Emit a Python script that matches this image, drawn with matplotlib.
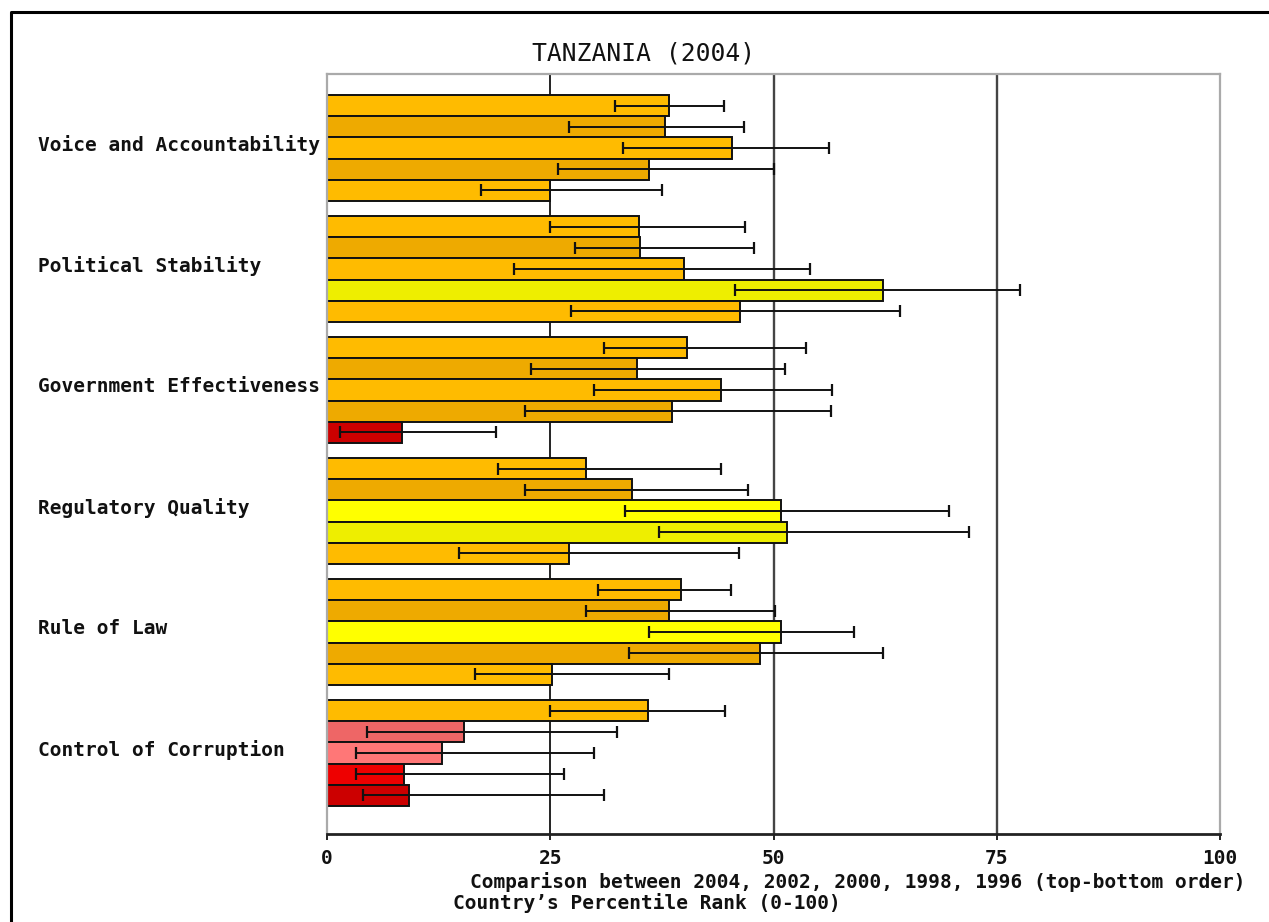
import matplotlib
matplotlib.use('Agg')
import matplotlib.pyplot as plt
import matplotlib.transforms as mtransforms
from matplotlib.lines import Line2D

# ---------------- data ----------------
indicators = ["Voice and Accountability", "Political Stability",
              "Government Effectiveness", "Regulatory Quality",
              "Rule of Law", "Control of Corruption"]
years = [2004, 2002, 2000, 1998, 1996]

rank_voice = [38.3, 37.9, 45.4, 36.1, 25.0]
rank_polstab = [34.9, 35.1, 40.0, 62.3, 46.3]
rank_goveff = [40.3, 34.7, 44.1, 38.6, 8.4]
rank_regqual = [29.0, 34.2, 50.8, 51.5, 27.1]
rank_rol = [39.6, 38.3, 50.8, 48.5, 25.2]
rank_corrupt = [35.9, 15.3, 12.9, 8.6, 9.2]

low_voice = [32.3, 27.1, 33.2, 25.9, 17.2]
low_polstab = [25.0, 27.8, 20.9, 45.7, 27.3]
low_goveff = [31.0, 22.8, 29.9, 22.2, 1.5]
low_regqual = [19.1, 22.2, 33.4, 37.2, 14.8]
low_rol = [30.3, 29.0, 36.1, 33.8, 16.6]
low_corrupt = [25.0, 4.5, 3.2, 3.2, 4.0]

high_voice = [44.5, 46.7, 56.2, 50.0, 37.5]
high_polstab = [46.8, 47.8, 54.1, 77.6, 64.2]
high_goveff = [53.6, 51.3, 56.6, 56.4, 18.9]
high_regqual = [44.1, 47.2, 69.6, 71.9, 46.1]
high_rol = [45.2, 50.2, 59.0, 62.3, 38.3]
high_corrupt = [44.6, 32.5, 29.9, 26.5, 31.0]

col_voice = ["#FFBB00", "#EEAA00", "#FFBB00", "#EEAA00", "#FFBB00"]
col_polstab = ["#FFBB00", "#EEAA00", "#FFBB00", "#EEEE00", "#FFBB00"]
col_goveff = ["#FFBB00", "#EEAA00", "#FFBB00", "#EEAA00", "#CC0000"]
col_regqual = ["#FFBB00", "#EEAA00", "#FFFF00", "#EEEE00", "#FFBB00"]
col_rol = ["#FFBB00", "#EEAA00", "#FFFF00", "#EEAA00", "#FFBB00"]
col_corrupt = ["#FFBB00", "#EE6666", "#FF7777", "#EE0000", "#CC0000"]

ranks = [rank_voice, rank_polstab, rank_goveff, rank_regqual, rank_rol, rank_corrupt]
lows = [low_voice, low_polstab, low_goveff, low_regqual, low_rol, low_corrupt]
highs = [high_voice, high_polstab, high_goveff, high_regqual, high_rol, high_corrupt]
cols = [col_voice, col_polstab, col_goveff, col_regqual, col_rol, col_corrupt]

x_ticks = [0, 25, 50, 75, 100]

# ---------------- figure ----------------
W, H = 1269, 922
fig = plt.figure(figsize=(W / 100, H / 100), dpi=100)
fig.patch.set_facecolor('white')

ax_l, ax_r, ax_t, ax_b = 327, 1220, 74, 834
ax = fig.add_axes([ax_l / W, 1 - ax_b / H, (ax_r - ax_l) / W, (ax_b - ax_t) / H])

MONO = 'DejaVu Sans Mono'
FS = 14.0
bar_px = 21.2
group_step = 121 / bar_px
first = 21 / bar_px
ymax = (ax_b - ax_t) / bar_px

# grid lines
ax.axvline(25, color='#111111', lw=1.3, zorder=0)
ax.axvline(50, color='#444444', lw=1.7, zorder=0)
ax.axvline(75, color='#444444', lw=1.7, zorder=0)

blend = mtransforms.blended_transform_factory(fig.transFigure, ax.transData)

for gi, name in enumerate(indicators):
    ys = [first + gi * group_step + j + 0.5 for j in range(len(years))]
    ax.barh(ys, ranks[gi], height=1.0, color=cols[gi], edgecolor='#111111',
            linewidth=1.4, zorder=2)
    xerr = [[r - lo for r, lo in zip(ranks[gi], lows[gi])],
            [hi - r for r, hi in zip(ranks[gi], highs[gi])]]
    ax.errorbar(ranks[gi], ys, xerr=xerr, fmt='none', ecolor='#111111',
                elinewidth=1.4, capsize=4.3, capthick=1.6, zorder=3)
    fig.text(38 / W, ys[2] - 0.15, name, transform=blend,
             ha='left', va='center', fontsize=FS, fontweight='bold',
             family=MONO, color='#111111')

ax.set_xlim(0, 100)
ax.set_ylim(ymax, 0)
ax.set_yticks([])
ax.set_xticks(x_ticks)
ax.set_xticklabels([str(t) for t in x_ticks], family=MONO, fontweight='bold',
                   fontsize=FS)
ax.tick_params(axis='x', direction='out', length=4, width=1.3, pad=7,
               colors='#111111')

for s in ['top', 'right', 'left']:
    ax.spines[s].set_color('#aaaaaa')
    ax.spines[s].set_linewidth(1.6)
ax.spines['bottom'].set_color('#222222')
ax.spines['bottom'].set_linewidth(2.0)

# title
fig.text(644 / W, 1 - 53 / H, "TANZANIA (2004)", ha='center', va='center',
         family=MONO, fontsize=17.7, color='#111111')

# axis captions
fig.text(1245 / W, 1 - 882 / H,
         "Comparison between 2004, 2002, 2000, 1998, 1996 (top-bottom order)",
         ha='right', va='center', family=MONO, fontsize=FS,
         fontweight='bold', color='#111111')
fig.text(453 / W, 1 - 903 / H, "Country\u2019s Percentile Rank (0-100)",
         ha='left', va='center', family=MONO, fontsize=FS,
         fontweight='bold', color='#111111')

# outer frame
fig.add_artist(Line2D([11 / W, 11 / W, 1.0], [0.0, 1 - 12 / H, 1 - 12 / H],
                      transform=fig.transFigure, color='black', lw=2.2))

fig.savefig('out.png', dpi=100, facecolor='white')
